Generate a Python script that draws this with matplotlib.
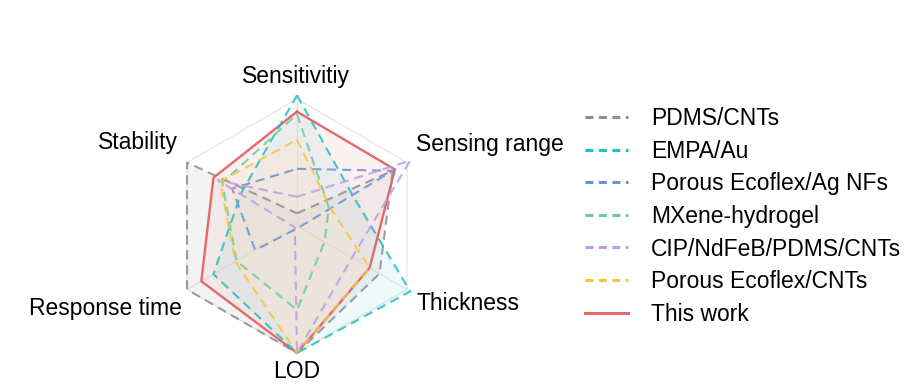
import numpy as np
import matplotlib.pyplot as plt
from matplotlib.lines import Line2D

plt.rcParams['font.family'] = ['Liberation Sans', 'DejaVu Sans']

axes_names = ['Sensitivitiy', 'Sensing range', 'Thickness', 'LOD', 'Response time', 'Stability']

# values, 0..1 (outer hexagon = 1)
pdms_cnts = [0.10, 0.87, 0.75, 1.00, 1.00, 1.00]
empa_au = [1.03, 0.50, 1.03, 1.00, 0.76, 0.51]
ecoflex_ag = [0.45, 0.87, 0.02, 0.02, 0.38, 0.59]
mxene = [0.88, 0.29, 0.25, 0.66, 0.55, 0.68]
cip_ndfeb = [0.23, 1.03, 0.50, 1.00, 0.02, 0.72]
ecoflex_cnts = [0.68, 0.30, 0.66, 1.00, 0.56, 0.70]
this_work = [0.90, 0.89, 0.66, 1.00, 0.87, 0.76]

series_names = ['PDMS/CNTs', 'EMPA/Au', 'Porous Ecoflex/Ag NFs', 'MXene-hydrogel',
                'CIP/NdFeB/PDMS/CNTs', 'Porous Ecoflex/CNTs']
series_vals = [pdms_cnts, empa_au, ecoflex_ag, mxene, cip_ndfeb, ecoflex_cnts]
colors = ['#8e8e8e', '#20bfc2', '#6b8fd3', '#6ccb9c', '#bd9de3', '#f6c640']
fill_alpha = [0.10, 0.08, 0.02, 0.02, 0.02, 0.02]
red = '#e4686c'

# angles: Sensitivity at top, then clockwise
ang = np.pi / 2 - np.arange(6) * np.pi / 3


def xy(vals):
    v = np.asarray(vals + vals[:1])
    a = np.concatenate([ang, ang[:1]])
    return v * np.cos(a), v * np.sin(a)


W, H = 919, 388
cx, cy, R = 297, 226, 127
fig = plt.figure(figsize=(W / 100, H / 100), dpi=100)
ax = fig.add_axes([0, 0, 1, 1])
ax.set_xlim(-cx / R, (W - cx) / R)
ax.set_ylim(-(H - cy) / R, cy / R)
ax.axis('off')

# faint frame: outer hexagon + three spokes
hx, hy = xy([1.0] * 6)
ax.plot(hx, hy, color='#e3e3e3', lw=0.8, zorder=1)
for k in (0, 2, 4):
    ax.plot([0, np.cos(ang[k])], [0, np.sin(ang[k])], color='#e6e6e6', lw=0.8, zorder=1)

# fills
for vals, c, a in zip(series_vals, colors, fill_alpha):
    x, y = xy(vals)
    ax.fill(x, y, color=c, alpha=a, lw=0, zorder=2)
x, y = xy(this_work)
ax.fill(x, y, color='#f4c4c4', alpha=0.22, lw=0, zorder=2)
x, y = xy(ecoflex_cnts)
ax.fill(x, y, color='#fde6d0', alpha=0.3, lw=0, zorder=2)

# lines
xr, yr = xy(this_work)
ax.plot(xr, yr, color=red, lw=1.7, zorder=4)
for vals, c in zip(series_vals, colors):
    x, y = xy(vals)
    ax.plot(x, y, color=c, lw=1.5, dashes=(4.4, 2.8), alpha=0.85, zorder=5)

# axis labels
lab_pos = [(296, 76), (490, 145), (468, 303), (297, 371), (105, 308), (138, 142)]
for name, (px, py) in zip(axes_names, lab_pos):
    fig.text(px / W, 1 - py / H, name, ha='center', va='center', fontsize=16.5)

# legend
handles = [Line2D([], [], color=c, lw=2.2, dashes=(2.6, 1.8)) for c in colors]
handles.append(Line2D([], [], color=red, lw=2.2))
labels = series_names + ['This work']
fig.legend(handles, labels, loc='upper left', bbox_to_anchor=(585 / W, 1 - 107 / H),
           frameon=False, fontsize=16.5, handlelength=1.87, handletextpad=1.0,
           labelspacing=0.42, borderpad=0, borderaxespad=0)

fig.savefig('out.png', dpi=100)
